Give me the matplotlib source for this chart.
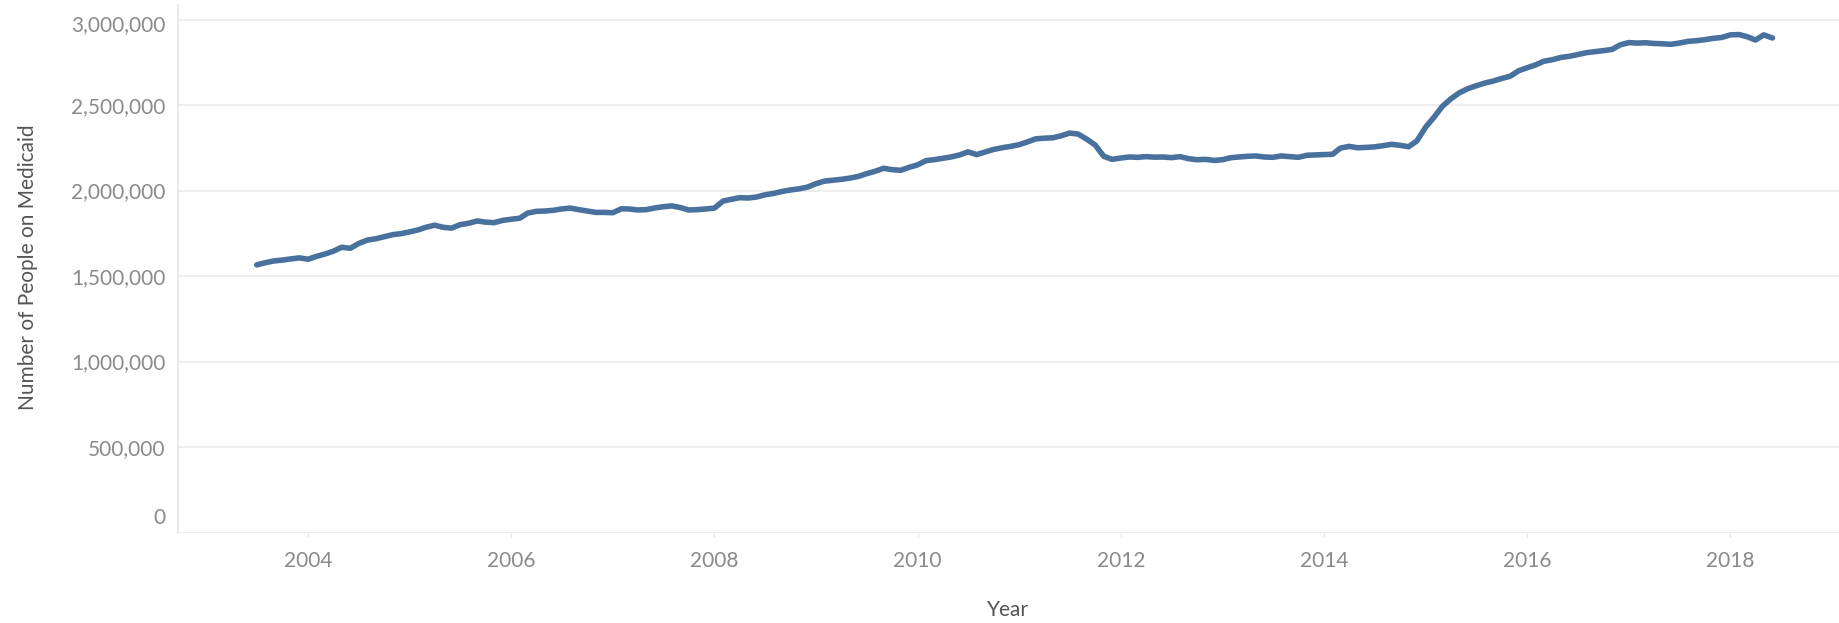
import numpy as np
import pandas as pd
import matplotlib
matplotlib.use('Agg')
import matplotlib.pyplot as plt
import matplotlib.transforms as mtransforms
from matplotlib.ticker import FuncFormatter

plt.rcParams['font.family'] = ['Lato', 'DejaVu Sans']

# monthly enrolment, Jul 2003 - Jun 2018 (in thousands)
start_month = '2003-07-01'
people_k = [
    # 2003 (Jul-Dec)
    1565, 1578, 1588, 1593, 1600, 1606,
    # 2004
    1598, 1615, 1628, 1645, 1668, 1662, 1690, 1710, 1718, 1730, 1742, 1748,
    # 2005
    1758, 1770, 1785, 1797, 1785, 1780, 1800, 1808, 1822, 1815, 1812, 1825,
    # 2006
    1832, 1838, 1868, 1878, 1880, 1884, 1892, 1897, 1888, 1880, 1872, 1872,
    # 2007
    1870, 1893, 1892, 1886, 1888, 1898, 1905, 1910, 1900, 1886, 1888, 1892,
    # 2008
    1897, 1938, 1948, 1958, 1956, 1962, 1975, 1983, 1995, 2003, 2010, 2020,
    # 2009
    2040, 2055, 2060, 2065, 2072, 2082, 2098, 2112, 2130, 2122, 2118, 2135,
    # 2010
    2150, 2175, 2180, 2188, 2196, 2208, 2226, 2210, 2225, 2240, 2250, 2258,
    # 2011
    2268, 2285, 2302, 2306, 2308, 2320, 2336, 2330, 2300, 2266, 2200, 2182,
    # 2012
    2190, 2196, 2194, 2198, 2195, 2196, 2192, 2198, 2186, 2180, 2182, 2176,
    # 2013
    2180, 2192, 2196, 2200, 2202, 2196, 2194, 2202, 2198, 2194, 2206, 2208,
    # 2014
    2210, 2212, 2248, 2258, 2250, 2252, 2255, 2262, 2270, 2264, 2256, 2290,
    # 2015
    2370, 2430, 2490, 2535, 2570, 2595, 2612, 2628, 2640, 2655, 2668, 2700,
    # 2016
    2718, 2735, 2756, 2765, 2778, 2785, 2795, 2806, 2812, 2818, 2825, 2852,
    # 2017
    2865, 2862, 2864, 2860, 2858, 2855, 2862, 2872, 2876, 2882, 2890, 2895,
    # 2018 (Jan-Jun)
    2910, 2912, 2900, 2880, 2910, 2892,
]
year_ticks = [2004, 2006, 2008, 2010, 2012, 2014, 2016, 2018]
y_ticks = [0, 500000, 1000000, 1500000, 2000000, 2500000, 3000000]

dates = pd.date_range(start_month, periods=len(people_k), freq='MS')
x = dates.year + (dates.dayofyear - 1) / 365.25
y = np.array(people_k) * 1000

W, H = 1839, 623
fig = plt.figure(figsize=(W / 100, H / 100), dpi=100)
# plot pane in pixels: left 178, right 1839, top 5, bottom 532.5
ax = fig.add_axes([178 / W, (H - 532.5) / H, (W - 178) / W, (532.5 - 5) / H])

ax.plot(x, y, color='#49719e', linewidth=4.0, solid_capstyle='round', solid_joinstyle='round', zorder=3)

ax.set_xlim(2004 - 130 / 101.6, 2004 + (W - 308) / 101.6)
ax.set_ylim(0, 3000000 * (532.5 - 5) / (532.5 - 19.5))

ax.set_yticks(y_ticks)
ax.yaxis.set_major_formatter(FuncFormatter(lambda v, p: f'{int(v):,}'))
ax.set_xticks(year_ticks)
ax.set_xticklabels([str(t) for t in year_ticks])

ax.grid(axis='y', color='#eeeeee', linewidth=1.4)
ax.set_axisbelow(True)
for s in ['top', 'right', 'bottom']:
    ax.spines[s].set_visible(False)
ax.spines['left'].set_color('#e6e6e6')
ax.spines['left'].set_linewidth(1.2)

ax.tick_params(axis='y', length=0, pad=9, labelsize=15, labelcolor='#8a8a8a')
ax.tick_params(axis='x', length=3, width=1, color='#e6e6e6', pad=10, labelsize=15, labelcolor='#8a8a8a')

# Tableau keeps the end labels inside the pane
ylabels = ax.get_yticklabels()
ylabels[0].set_transform(ylabels[0].get_transform() + mtransforms.ScaledTranslation(0, 17 / 100, fig.dpi_scale_trans))
ylabels[-1].set_transform(ylabels[-1].get_transform() + mtransforms.ScaledTranslation(0, -4 / 100, fig.dpi_scale_trans))

fig.text(1008 / W, (H - 610) / H, 'Year', ha='center', va='center', fontsize=15, color='#555555')
fig.text(28 / W, (H - 267) / H, 'Number of People on Medicaid', ha='center', va='center',
         rotation=90, fontsize=15, color='#555555')

plt.savefig('out.png', dpi=100)
